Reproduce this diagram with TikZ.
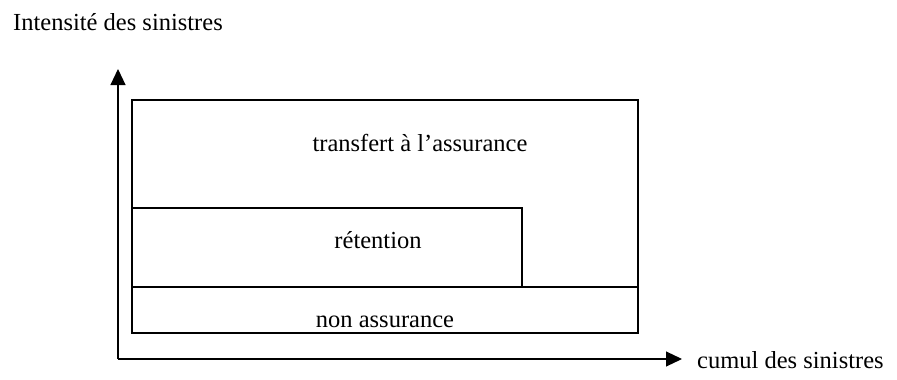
\documentclass[tikz,border=0pt]{standalone}
\usepackage{fontspec}
\setmainfont{Liberation Serif}
\usetikzlibrary{arrows.meta}
\begin{document}
\begin{tikzpicture}[x=1pt,y=-1pt,
  box/.style={draw=black,line width=1.1pt},
  lbl/.style={inner sep=0pt,font=\fontsize{24.5}{29}\selectfont},
  axis/.style={draw=black,line width=1.1pt,-{Triangle[length=16pt,width=15pt]}}]
\useasboundingbox (0,0) rectangle (897,380);
\coordinate (O) at (118,359);
\coordinate (Ytop) at (118,69);
\coordinate (Xend) at (682,359);
\draw[axis] (O) -- (Ytop);
\draw[axis] (O) -- (Xend);
\draw[box] (132,100) rectangle (638,333);
\draw[box] (132,287) -- (638,287);
\draw[box] (132,287) -- (132,208) -- (522,208) -- (522,287);
\node[lbl,anchor=west] (ylab) at (13,22) {Intensité des sinistres};
\node[lbl,anchor=west] (xlab) at (697,360) {cumul des sinistres};
\node[lbl] (tr) at (420,143) {transfert à l’assurance};
\node[lbl] (ret) at (378,240) {rétention};
\node[lbl] (non) at (385,322) {non assurance};
\end{tikzpicture}
\end{document}
